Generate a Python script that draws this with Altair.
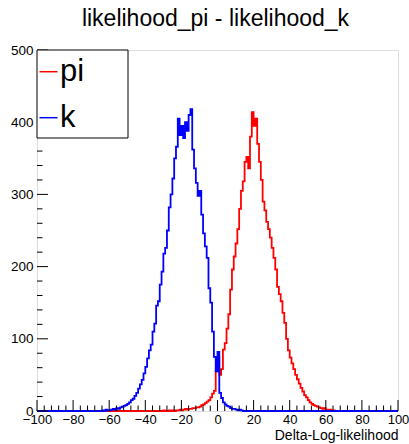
import altair as alt
import pandas as pd

TITLE = "likelihood_pi - likelihood_k"
X_TITLE = "Delta-Log-likelihood"
SERIES = ["pi", "k"]
COLORS = ["#ff0000", "#0000ff"]
X_MIN, X_MAX = -100, 100
Y_MIN, Y_MAX = 0, 500
BIN_WIDTH = 1

PI_START = -30
PI_COUNTS = [1, 0, 0, 1, 0, 1, 0, 1, 1, 2, 1, 2, 3, 2, 3, 3, 4, 4, 5, 5,
             6, 8, 9, 11, 13, 15, 19, 24, 28, 55, 75, 50, 58, 85, 94, 114, 134, 168, 196, 214,
             232, 252, 280, 305, 318, 345, 352, 336, 380, 414, 395, 405, 370, 345, 320, 290, 278, 262, 252, 240,
             226, 212, 196, 172, 162, 152, 136, 122, 100, 84, 74, 66, 58, 50, 44, 38, 32, 27, 22, 19,
             15, 12, 10, 8, 7, 6, 5, 4, 3, 4, 2, 2, 2, 1, 1, 0]

K_START = -65
K_COUNTS = [0, 1, 0, 2, 1, 1, 2, 3, 2, 4, 3, 5, 6, 7, 8, 10, 12, 15, 17, 21,
            25, 31, 37, 43, 52, 61, 73, 84, 92, 110, 121, 146, 152, 175, 193, 218, 226, 250, 282, 300,
            322, 350, 366, 405, 382, 395, 378, 400, 388, 410, 418, 362, 336, 316, 298, 305, 272, 246, 228, 212,
            170, 150, 110, 75, 55, 82, 25, 18, 12, 9, 7, 6, 4, 3, 3, 2, 1, 2, 1, 0]

X_MAJOR = list(range(-100, 101, 20))
X_MINOR = [v for v in range(-100, 101, 4) if v % 20 != 0]
Y_MAJOR = list(range(0, 501, 100))
Y_MINOR = [v for v in range(0, 501, 20) if v % 100 != 0]

W, H = 361, 361
FONT = "Liberation Sans"


def hist_frame(start, counts, name):
    edges = list(range(X_MIN, X_MAX, BIN_WIDTH))
    vals = []
    for e in edges:
        i = (e - start) // BIN_WIDTH
        vals.append(counts[i] if 0 <= i < len(counts) else 0)
    edges.append(X_MAX)
    vals.append(vals[-1])
    return pd.DataFrame({"x": edges, "count": vals, "series": name})


xscale = alt.Scale(domain=[X_MIN, X_MAX], nice=False, zero=False)
yscale = alt.Scale(domain=[Y_MIN, Y_MAX], nice=False)

x_axis = alt.Axis(values=X_MAJOR, ticks=False, domain=False, grid=False,
                  labelFontSize=13, labelFont=FONT, labelColor="black", labelPadding=2,
                  labelOverlap=False, labelFlush=False, labelBound=False,
                  title=X_TITLE, titleFont=FONT, titleFontSize=14, titleFontWeight="normal",
                  titleColor="black", titleAlign="right", titleBaseline="alphabetic",
                  titleX=W, titleY=28, titleAnchor="end")
y_axis = alt.Axis(values=Y_MAJOR, ticks=False, domain=False, grid=False,
                  labelFontSize=13.5, labelFont=FONT, labelColor="black", labelPadding=4,
                  labelOverlap=False, labelFlush=False, labelBound=False, title=None)

X_ENC = alt.X("x:Q", scale=xscale, axis=x_axis, title=X_TITLE)
Y_ENC = alt.Y("count:Q", scale=yscale, axis=y_axis, title=None)

layers = []
dfs = [hist_frame(PI_START, PI_COUNTS, SERIES[0]), hist_frame(K_START, K_COUNTS, SERIES[1])]
for df, col in zip(dfs, COLORS):
    layers.append(
        alt.Chart(df).mark_line(interpolate="step-after", color=col, strokeWidth=1.8).encode(
            x=X_ENC, y=Y_ENC)
    )

# tick marks drawn inward (ROOT style)
layers.append(alt.Chart(pd.DataFrame({"x": X_MAJOR})).mark_rule(color="black", strokeWidth=1).encode(
    x=X_ENC, y=alt.value(H), y2=alt.value(H - 11)))
layers.append(alt.Chart(pd.DataFrame({"x": X_MINOR})).mark_rule(color="black", strokeWidth=1).encode(
    x=X_ENC, y=alt.value(H), y2=alt.value(H - 5.5)))
layers.append(alt.Chart(pd.DataFrame({"count": Y_MAJOR})).mark_rule(color="black", strokeWidth=1).encode(
    y=Y_ENC, x=alt.value(0), x2=alt.value(11)))
layers.append(alt.Chart(pd.DataFrame({"count": Y_MINOR})).mark_rule(color="black", strokeWidth=1).encode(
    y=Y_ENC, x=alt.value(0), x2=alt.value(5.5)))

# legend box
box = pd.DataFrame({"series": ["legend"]})
layers.append(alt.Chart(box).mark_rect(fill="white", stroke="black", strokeWidth=1).encode(
    x=alt.value(0), x2=alt.value(91), y=alt.value(0), y2=alt.value(88)))
rows_y = [21.7, 67.7]
for name, col, ry in zip(SERIES, COLORS, rows_y):
    d = pd.DataFrame({"series": [name]})
    layers.append(alt.Chart(d).mark_rule(color=col, strokeWidth=1.5).encode(
        x=alt.value(2.5), x2=alt.value(20.5), y=alt.value(ry)))
    layers.append(alt.Chart(d).mark_text(font=FONT, fontSize=31, color="black", align="left",
                                         baseline="middle").encode(
        x=alt.value(23), y=alt.value(ry), text="series:N"))

chart = alt.layer(*layers).properties(
    width=W, height=H,
    title=alt.Title(TITLE, anchor="middle", frame="group", offset=12, dx=-2),
    padding={"left": 37, "top": 50, "right": 11, "bottom": 33},
    autosize=alt.AutoSizeParams(type="none"),
).configure_view(stroke="black", strokeWidth=1).configure(background="white").configure_title(
    font=FONT, fontSize=23, fontWeight="normal", color="black")

chart.save("out.html", embed_options={"renderer": "svg", "actions": False})
